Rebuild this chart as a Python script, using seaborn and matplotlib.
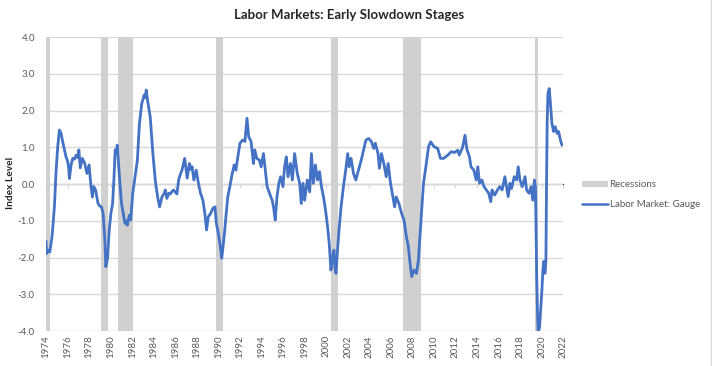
import pandas as pd
import matplotlib.pyplot as plt
import seaborn as sns
from matplotlib.patches import Patch
from matplotlib.lines import Line2D

# Labor market gauge (decimal years)
years = [
    1974.00, 1974.06, 1974.20, 1974.35, 1974.56, 1974.78, 1974.94, 1975.09, 1975.24, 1975.40,
    1975.55, 1975.71, 1975.85, 1976.02, 1976.10, 1976.17, 1976.33, 1976.48, 1976.65, 1976.80,
    1976.95, 1977.05, 1977.18, 1977.37, 1977.59, 1977.80, 1978.00, 1978.12, 1978.30, 1978.43,
    1978.60, 1978.83, 1979.00, 1979.14, 1979.30, 1979.46, 1979.55, 1979.63, 1979.71, 1979.87,
    1980.02, 1980.18, 1980.30, 1980.42, 1980.52, 1980.61, 1980.73, 1980.86, 1981.01, 1981.17,
    1981.33, 1981.45, 1981.55, 1981.73, 1981.86, 1982.05, 1982.26, 1982.48, 1982.67, 1982.89,
    1983.00, 1983.10, 1983.20, 1983.30, 1983.42, 1983.67, 1983.92, 1984.14, 1984.36, 1984.54,
    1984.76, 1984.98, 1985.07, 1985.22, 1985.39, 1985.53, 1985.70, 1985.84, 1986.00, 1986.15,
    1986.31, 1986.45, 1986.62, 1986.87, 1987.10, 1987.31, 1987.45, 1987.56, 1987.72, 1987.94,
    1988.12, 1988.34, 1988.56, 1988.74, 1988.90, 1989.06, 1989.28, 1989.49, 1989.68, 1989.81,
    1989.99, 1990.18, 1990.31, 1990.43, 1990.56, 1990.75, 1990.87, 1991.06, 1991.25, 1991.46,
    1991.62, 1991.78, 1992.00, 1992.25, 1992.46, 1992.65, 1992.81, 1993.03, 1993.25, 1993.37,
    1993.56, 1993.81, 1993.96, 1994.18, 1994.37, 1994.52, 1994.74, 1994.99, 1995.11, 1995.27,
    1995.43, 1995.61, 1995.77, 1995.99, 1996.14, 1996.30, 1996.46, 1996.68, 1996.86, 1997.07,
    1997.32, 1997.54, 1997.69, 1997.85, 1998.00, 1998.25, 1998.47, 1998.63, 1998.81, 1999.00,
    1999.19, 1999.38, 1999.56, 1999.75, 1999.94, 2000.13, 2000.28, 2000.44, 2000.56, 2000.72,
    2000.81, 2000.91, 2001.03, 2001.19, 2001.38, 2001.60, 2001.81, 2002.00, 2002.13, 2002.31,
    2002.53, 2002.75, 2003.00, 2003.25, 2003.47, 2003.69, 2003.94, 2004.19, 2004.41, 2004.56,
    2004.81, 2004.94, 2005.13, 2005.35, 2005.57, 2005.75, 2005.97, 2006.19, 2006.35, 2006.50,
    2006.75, 2007.00, 2007.22, 2007.44, 2007.63, 2007.75, 2007.94, 2008.16, 2008.38, 2008.56,
    2008.72, 2008.88, 2009.03, 2009.25, 2009.50, 2009.70, 2010.00, 2010.35, 2010.60, 2010.90,
    2011.30, 2011.60, 2011.90, 2012.20, 2012.35, 2012.66, 2012.88, 2013.07, 2013.29, 2013.44,
    2013.70, 2013.92, 2014.07, 2014.23, 2014.45, 2014.64, 2014.86, 2015.08, 2015.27, 2015.39,
    2015.64, 2015.89, 2016.11, 2016.33, 2016.58, 2016.73, 2016.89, 2017.05, 2017.20, 2017.45,
    2017.67, 2017.82, 2017.98, 2018.20, 2018.45, 2018.60, 2018.82, 2019.01, 2019.17, 2019.32,
    2019.42, 2019.48, 2019.54, 2019.61, 2019.67, 2019.80, 2019.92, 2020.02, 2020.11, 2020.21,
    2020.30, 2020.39, 2020.45, 2020.51, 2020.58, 2020.70, 2020.83, 2020.95, 2021.10, 2021.26,
    2021.42, 2021.57, 2021.73, 2021.88,
]
gauge = [
    -1.55, -1.89, -1.80, -1.85, -1.43, -0.62, 0.38, 1.02, 1.47, 1.38,
    1.15, 0.93, 0.75, 0.61, 0.45, 0.15, 0.52, 0.70, 0.68, 0.79,
    0.72, 0.93, 0.44, 0.70, 0.57, 0.29, 0.52, 0.11, -0.35, -0.07,
    -0.16, -0.53, -0.60, -0.62, -0.80, -1.52, -2.25, -2.15, -2.02, -1.25,
    -0.80, -0.53, 0.11, 0.93, 0.85, 1.06, 0.57, 0.02, -0.53, -0.80,
    -1.07, -1.00, -1.12, -0.85, -0.98, -0.25, 0.20, 0.65, 1.65, 2.20,
    2.30, 2.42, 2.35, 2.56, 2.29, 1.83, 0.83, 0.11, -0.35, -0.62,
    -0.35, -0.25, -0.16, -0.39, -0.25, -0.27, -0.20, -0.16, -0.22, -0.27,
    0.11, 0.25, 0.38, 0.70, 0.16, 0.56, 0.40, 0.47, 0.11, 0.38,
    0.06, -0.25, -0.44, -0.80, -1.25, -0.89, -0.80, -0.66, -0.62, -1.07,
    -1.34, -1.71, -2.02, -1.71, -1.34, -0.71, -0.35, -0.07, 0.24, 0.52,
    0.38, 0.70, 1.11, 1.20, 1.16, 1.79, 1.29, 1.16, 0.56, 0.93,
    0.70, 0.65, 0.47, 0.83, 0.34, -0.07, -0.25, -0.44, -0.62, -0.98,
    -0.35, 0.02, 0.20, -0.07, 0.47, 0.74, 0.20, 0.56, 0.11, 0.83,
    0.29, 0.02, -0.53, 0.02, -0.44, 0.11, -0.21, 0.83, 0.02, 0.52,
    0.11, 0.34, -0.07, -0.35, -0.71, -1.16, -1.61, -2.34, -2.07, -1.80,
    -2.25, -2.43, -1.89, -1.25, -0.62, -0.07, 0.38, 0.83, 0.47, 0.70,
    0.29, 0.11, 0.38, 0.65, 0.93, 1.20, 1.24, 1.16, 0.97, 1.11,
    0.83, 0.43, 0.83, 0.56, 0.20, 0.56, 0.02, -0.35, -0.62, -0.35,
    -0.53, -0.80, -0.98, -1.43, -1.71, -2.07, -2.52, -2.34, -2.43, -2.07,
    -1.34, -0.62, 0.02, 0.47, 1.02, 1.15, 1.02, 0.97, 0.70, 0.70,
    0.79, 0.88, 0.86, 0.92, 0.79, 1.00, 1.33, 0.93, 0.75, 0.47,
    0.38, 0.11, 0.47, 0.02, 0.11, -0.07, -0.16, -0.25, -0.48, -0.16,
    -0.30, -0.16, -0.07, -0.16, 0.20, -0.07, -0.34, 0.02, -0.12, 0.20,
    0.11, 0.47, 0.11, -0.07, 0.20, -0.16, -0.25, -0.07, -0.44, 0.11,
    -0.07, -1.25, -2.61, -3.52, -4.05, -3.90, -3.34, -2.88, -2.34, -2.10,
    -2.43, -2.10, 0.11, 1.74, 2.47, 2.60, 2.11, 1.65, 1.43, 1.56,
    1.38, 1.43, 1.20, 1.06,
]

# recession shading as drawn in the chart
rec_start = [1974.00, 1979.14, 1980.67, 1989.74, 2000.41, 2007.14, 2019.40]
rec_end = [1974.37, 1979.71, 1982.05, 1990.46, 2001.13, 2008.76, 2019.65]

x_ticks = list(range(1974, 2023, 2))
y_ticks = [-4, -3, -2, -1, 0, 1, 2, 3, 4]

df = pd.DataFrame({"year": years, "gauge": gauge})

sns.set_style("white")
plt.rcParams['font.family'] = ['Lato', 'DejaVu Sans']

fig = plt.figure(figsize=(7.12, 3.66), dpi=100)
ax = fig.add_axes([0.0646, 0.0956, 0.7265, 0.803])

grid_col = "#d9d9d9"
txt_col = "#595959"
blue = "#4472c4"

for s, e in zip(rec_start, rec_end):
    ax.axvspan(s, e, color="#d0d0d0", lw=0, zorder=1)

sns.lineplot(data=df, x="year", y="gauge", ax=ax, color=blue, linewidth=2.0,
             estimator=None, sort=False, zorder=3, legend=False)

ax.set_xlim(1974, 2022)
ax.set_ylim(-4, 4)
ax.set_yticks(y_ticks)
ax.set_yticklabels([f"{v:.1f}" for v in y_ticks])
ax.yaxis.grid(True, color=grid_col, linewidth=1.0, zorder=0)
ax.set_axisbelow(True)
for sp in ax.spines.values():
    sp.set_visible(False)

ax.set_xticks(x_ticks)
ax.set_xticklabels([str(v) for v in x_ticks], rotation=90)
ax.tick_params(axis="x", length=0, pad=3, labelsize=7, labelcolor=txt_col)
ax.tick_params(axis="y", length=0, pad=8, labelsize=7, labelcolor=txt_col)

# horizontal axis line crossing at zero, with small tick marks
zero_ax = ax.secondary_xaxis(0.5)
zero_ax.set_xticks(x_ticks)
zero_ax.tick_params(axis="x", direction="out", length=3, color=grid_col,
                    labelbottom=False, labeltop=False, bottom=True, top=False)
zero_ax.spines["bottom"].set_color(grid_col)
zero_ax.spines["bottom"].set_linewidth(1.0)

ax.set_xlabel("")
ax.set_ylabel("")
fig.text(0.015, 0.5, "Index Level", rotation=90, ha="center", va="center",
         fontsize=7.3, fontweight="bold")
fig.text(0.49, 0.958, "Labor Markets: Early Slowdown Stages", ha="center", va="center",
         fontsize=9.5, fontweight="bold")

handles = [Patch(facecolor="#d0d0d0", edgecolor="none"),
           Line2D([0], [0], color=blue, linewidth=1.8)]
leg = ax.legend(handles, ["Recessions", "Labor Market: Gauge"], loc="center left",
                bbox_to_anchor=(1.02, 0.464), frameon=False, fontsize=7,
                handlelength=2.6, handleheight=0.5, handletextpad=0.2, labelspacing=1.1)
for t in leg.get_texts():
    t.set_color(txt_col)

fig.add_artist(Line2D([0.998, 0.998], [0, 1], transform=fig.transFigure, color=grid_col, lw=1))

plt.savefig("out.png", dpi=100)
